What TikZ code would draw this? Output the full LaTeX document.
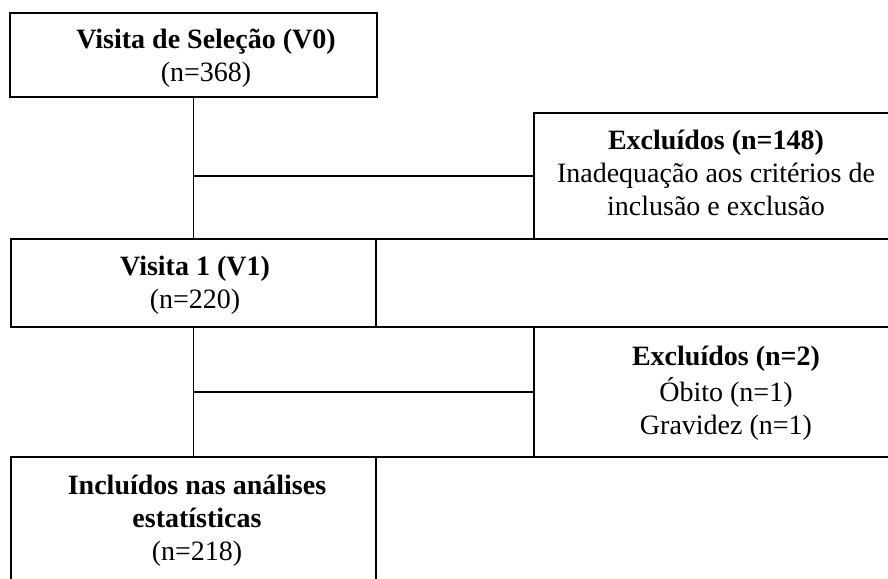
\documentclass[tikz,border=0pt]{standalone}
\usepackage{fontspec}
\setmainfont{Liberation Serif}
\usepackage{tikz}
\usetikzlibrary{calc}

\begin{document}
\begin{tikzpicture}[x=0.5pt,y=-0.5pt,
  cell/.style={draw,line width=0.8pt,inner sep=0pt,outer sep=0pt},
  link/.style={line width=0.8pt},
  txt/.style={align=center,inner sep=0pt,anchor=north,
    font=\fontsize{14}{16.5}\selectfont}]
  \useasboundingbox (0,0) rectangle (888,578);
  \clip (0,0) rectangle (888,578);
  % Zellen
  \node[cell,minimum width=183.5pt,minimum height=42pt] (v0) at (193.5,55) {};
  \node[cell,minimum width=182pt,minimum height=63pt] (ex1) at (716,176) {};
  \node[cell,minimum width=182.5pt,minimum height=44pt] (v1) at (193.5,283) {};
  \node[cell,minimum width=262pt,minimum height=44pt] (v1r) at (638,283) {};
  \node[cell,minimum width=192pt,minimum height=65pt] (ex2) at (726,392) {};
  \node[cell,minimum width=182.5pt,minimum height=71.5pt] (inc) at (193.5,528.5) {};
  \node[cell,minimum width=262pt,minimum height=71.5pt] (incr) at (638,528.5) {};
  % Texte
  \node[txt] (v0t) at (206,25) {\textbf{Visita de Seleção (V0)}\strut\\(n=368)};
  \node[txt] (ex1t) at (716,126) {\textbf{Excluídos (n=148)}\strut\\Inadequação aos critérios de\\inclusão e exclusão};
  \node[txt] (v1t) at (195,252) {\textbf{Visita 1 (V1)}\strut\\(n=220)};
  \node[txt] (ex2t) at (726,342) {\textbf{Excluídos (n=2)}\strut\\Óbito (n=1)\\Gravidez (n=1)};
  \node[txt] (inct) at (197,471) {\textbf{Incluídos nas análises}\strut\\\textbf{estatísticas}\\(n=218)};
  % Verbindungen
  \draw[link] (v0.south) -- (v1.north);
  \draw[link] (ex1.west) -- (ex1.west -| v0.south);
  \draw[link] (v1.south) -- (inc.north);
  \draw[link] (ex2.west) -- (ex2.west -| v1.south);
\end{tikzpicture}
\end{document}
